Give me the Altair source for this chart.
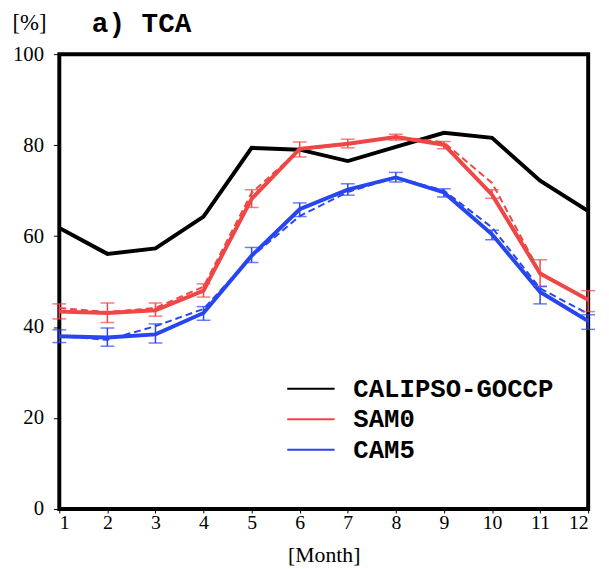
import altair as alt
import pandas as pd

months = list(range(1, 13))
series = ["CALIPSO-GOCCP", "SAM0", "CAM5"]
colors = ["#000000", "#F04646", "#2846F0"]
panel_title = ["a) TCA"]

calipso = [61.8, 56.1, 57.3, 64.3, 79.4, 79.0, 76.5, 79.6, 82.7, 81.6, 72.2, 65.5]

sam0 = [43.4, 43.1, 43.7, 48.0, 68.2, 79.2, 80.3, 81.8, 80.1, 69.1, 51.8, 46.0]
sam0_dash = [44.2, 43.3, 44.2, 48.9, 69.5, 79.0, 80.1, 81.9, 80.6, 71.7, 52.0, 45.8]
sam0_lo = [41.8, 41.0, 42.4, 46.6, 66.3, 77.4, 79.4, 81.1, 79.2, 68.3, 49.0, 43.4]
sam0_hi = [45.1, 45.3, 45.3, 49.5, 70.2, 80.7, 81.3, 82.4, 80.8, 70.2, 54.8, 48.0]

cam5 = [38.0, 37.7, 38.4, 43.1, 55.7, 65.9, 70.2, 72.9, 69.6, 60.4, 47.7, 41.3]
cam5_dash = [38.0, 37.2, 40.2, 44.0, 55.5, 64.4, 69.7, 72.9, 70.0, 61.9, 48.5, 42.9]
cam5_lo = [36.6, 35.8, 36.5, 41.5, 54.2, 64.3, 69.0, 71.9, 68.6, 59.2, 45.1, 39.5]
cam5_hi = [39.4, 39.8, 40.7, 44.5, 57.5, 67.3, 71.5, 74.0, 70.4, 61.3, 48.9, 42.7]

solid = pd.DataFrame({
    "month": months * 3,
    "series": [s for s in series for _ in months],
    "value": calipso + sam0 + cam5,
})
dashed = pd.DataFrame({
    "month": months * 2,
    "series": [s for s in series[1:] for _ in months],
    "value": sam0_dash + cam5_dash,
})
err = pd.DataFrame({
    "month": months * 2,
    "series": [s for s in series[1:] for _ in months],
    "lo": sam0_lo + cam5_lo,
    "hi": sam0_hi + cam5_hi,
})
title_df = pd.DataFrame({"t": panel_title})

color_scale = alt.Scale(domain=series, range=colors)

x_enc = alt.X(
    "month:Q",
    scale=alt.Scale(domain=[1, 12], nice=False, zero=False),
    axis=alt.Axis(values=months, title="[Month]", titlePadding=12,
                  titleFontSize=22, format="d", tickSize=4, labelPadding=0),
)
y_enc = alt.Y(
    "value:Q",
    scale=alt.Scale(domain=[0, 100], nice=False),
    axis=alt.Axis(values=[0, 20, 40, 60, 80, 100], title="[%]",
                  titleAngle=0, titleAlign="left", titleBaseline="alphabetic",
                  titleX=-48, titleY=-25, titleFontSize=23,
                  tickSize=6, labelPadding=10, labelFontSize=21),
)

lines = alt.Chart(solid).mark_line(strokeWidth=4, clip=True).encode(
    x=x_enc,
    y=y_enc,
    color=alt.Color(
        "series:N", scale=color_scale, sort=series,
        legend=alt.Legend(
            title=None, orient="none", legendX=242, legendY=326,
            symbolType="M-4.8,0H4.8", symbolSize=100, symbolStrokeWidth=2,
            labelFont="Liberation Mono", labelFontWeight="bold",
            labelFontSize=26, labelColor="black", labelLimit=400,
            labelOffset=30, rowPadding=5,
        ),
    ),
)

dlines = alt.Chart(dashed).mark_line(strokeWidth=2, strokeDash=[7, 4], clip=True).encode(
    x="month:Q",
    y="value:Q",
    color=alt.Color("series:N", scale=color_scale, legend=None),
)

rules = alt.Chart(err).mark_rule(strokeWidth=1.5).encode(
    x="month:Q",
    y="lo:Q",
    y2="hi:Q",
    color=alt.Color("series:N", scale=color_scale, legend=None),
)
cap_lo = alt.Chart(err).mark_tick(orient="horizontal", size=14, thickness=1.5).encode(
    x="month:Q",
    y="lo:Q",
    color=alt.Color("series:N", scale=color_scale, legend=None),
)
cap_hi = alt.Chart(err).mark_tick(orient="horizontal", size=14, thickness=1.5).encode(
    x="month:Q",
    y="hi:Q",
    color=alt.Color("series:N", scale=color_scale, legend=None),
)

title_text = alt.Chart(title_df).mark_text(
    align="left", baseline="alphabetic", font="Liberation Mono",
    fontWeight="bold", fontSize=28, color="black",
).encode(
    text="t:N",
    x=alt.value(33),
    y=alt.value(-22),
)

chart = alt.layer(lines, dlines, rules, cap_lo, cap_hi, title_text).properties(
    width=536,
    height=461,
    autosize=alt.AutoSizeParams(type="none"),
    padding={"left": 52, "top": 43, "right": 13, "bottom": 57},
    background="white",
).configure_view(
    stroke="black", strokeWidth=4,
).configure_axis(
    domain=False, grid=False, tickColor="black", tickWidth=1,
    labelFont="Liberation Serif", labelFontSize=20, labelColor="black",
    titleFont="Liberation Serif", titleFontWeight="normal",
    titleColor="black",
)

chart.save("out.html", embed_options={"renderer": "svg", "actions": False})
